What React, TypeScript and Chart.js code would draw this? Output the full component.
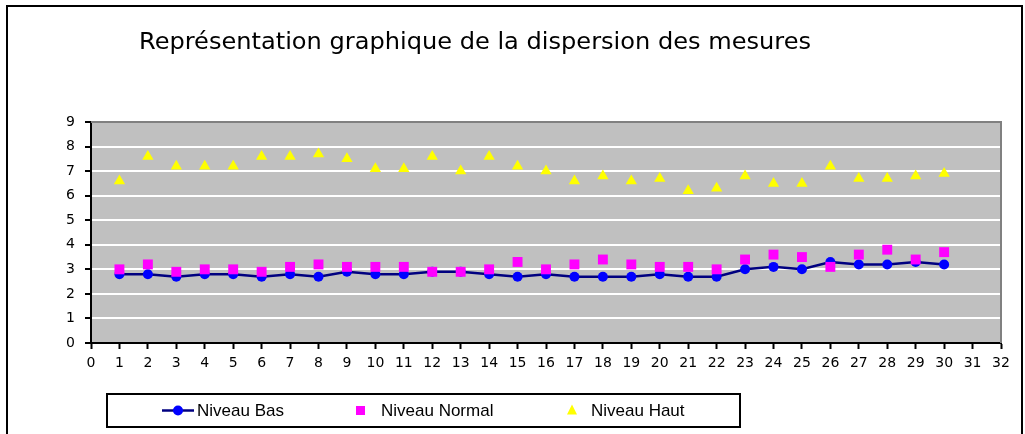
import React, { useEffect, useRef } from "react";
import { Chart, registerables } from "chart.js";

Chart.register(...registerables);

const TITLE = "Représentation graphique de la dispersion des mesures";
const xValues = [1, 2, 3, 4, 5, 6, 7, 8, 9, 10, 11, 12, 13, 14, 15, 16, 17, 18, 19, 20, 21, 22, 23, 24, 25, 26, 27, 28, 29, 30];
const niveauBas = [2.8, 2.8, 2.7, 2.8, 2.8, 2.7, 2.8, 2.7, 2.9, 2.8, 2.8, 2.9, 2.9, 2.8, 2.7, 2.8, 2.7, 2.7, 2.7, 2.8, 2.7, 2.7, 3.0, 3.1, 3.0, 3.3, 3.2, 3.2, 3.3, 3.2];
const niveauNormal = [3.0, 3.2, 2.9, 3.0, 3.0, 2.9, 3.1, 3.2, 3.1, 3.1, 3.1, 2.9, 2.9, 3.0, 3.3, 3.0, 3.2, 3.4, 3.2, 3.1, 3.1, 3.0, 3.4, 3.6, 3.5, 3.1, 3.6, 3.8, 3.4, 3.7];
const niveauHaut = [6.6, 7.6, 7.2, 7.2, 7.2, 7.6, 7.6, 7.7, 7.5, 7.1, 7.1, 7.6, 7.0, 7.6, 7.2, 7.0, 6.6, 6.8, 6.6, 6.7, 6.2, 6.3, 6.8, 6.5, 6.5, 7.2, 6.7, 6.7, 6.8, 6.9];
const seriesLabels = ["Niveau Bas", "Niveau Normal", "Niveau Haut"];

const toPoints = (ys: number[]) => xValues.map((x, i) => ({ x, y: ys[i] }));

const decorPlugin = {
  id: "decor",
  beforeDraw(chart: any) {
    const { ctx, chartArea } = chart;
    ctx.save();
    ctx.fillStyle = "#C0C0C0";
    ctx.fillRect(chartArea.left, chartArea.top, chartArea.right - chartArea.left, chartArea.bottom - chartArea.top);
    ctx.restore();
  },
  afterDraw(chart: any) {
    const { ctx, chartArea } = chart;
    ctx.save();
    // plot area top/right border
    ctx.strokeStyle = "#808080";
    ctx.lineWidth = 2;
    ctx.beginPath();
    ctx.moveTo(chartArea.left, chartArea.top);
    ctx.lineTo(chartArea.right, chartArea.top);
    ctx.lineTo(chartArea.right, chartArea.bottom);
    ctx.stroke();

    // outer frame
    ctx.strokeStyle = "#000";
    ctx.lineWidth = 2;
    ctx.strokeRect(7, 6, 1015, 460);

    // title
    ctx.fillStyle = "#000";
    ctx.font = "23px 'DejaVu Sans'";
    ctx.textBaseline = "alphabetic";
    ctx.textAlign = "left";
    const w = ctx.measureText(TITLE).width;
    const target = 672;
    ctx.save();
    ctx.translate(139, 49);
    ctx.scale(target / w, 1);
    ctx.fillText(TITLE, 0, 0);
    ctx.restore();

    // legend
    ctx.strokeStyle = "#000";
    ctx.lineWidth = 2;
    ctx.strokeRect(107, 394, 633, 33);
    const cy = 410.5;
    const ds = chart.data.datasets;
    // Bas
    ctx.strokeStyle = ds[0].borderColor;
    ctx.lineWidth = 2.5;
    ctx.beginPath();
    ctx.moveTo(162, cy);
    ctx.lineTo(194, cy);
    ctx.stroke();
    ctx.fillStyle = ds[0].pointBackgroundColor;
    ctx.beginPath();
    ctx.arc(178, cy, 5, 0, Math.PI * 2);
    ctx.fill();
    // Normal
    ctx.fillStyle = ds[1].pointBackgroundColor;
    ctx.fillRect(356, cy - 4.5, 9, 9);
    // Haut
    ctx.fillStyle = ds[2].pointBackgroundColor;
    ctx.beginPath();
    ctx.moveTo(572, cy - 6);
    ctx.lineTo(577, cy + 4);
    ctx.lineTo(567, cy + 4);
    ctx.closePath();
    ctx.fill();

    ctx.fillStyle = "#000";
    ctx.font = "17px 'Liberation Sans'";
    ctx.textBaseline = "middle";
    ctx.fillText(seriesLabels[0], 197, cy + 1);
    ctx.fillText(seriesLabels[1], 381, cy + 1);
    ctx.fillText(seriesLabels[2], 591, cy + 1);
    ctx.restore();
  },
};

export default function App() {
  const ref = useRef<HTMLCanvasElement>(null);
  useEffect(() => {
    if (!ref.current) return;
    const chart = new Chart(ref.current, {
      type: "scatter",
      data: {
        datasets: [
          {
            label: seriesLabels[0],
            data: toPoints(niveauBas),
            showLine: true,
            borderColor: "#000080",
            borderWidth: 2.5,
            pointBackgroundColor: "#0000FF",
            pointBorderColor: "#0000FF",
            pointRadius: 5,
            pointBorderWidth: 0,
            order: 3,
          },
          {
            label: seriesLabels[1],
            data: toPoints(niveauNormal),
            showLine: false,
            pointStyle: "rect",
            pointBackgroundColor: "#FF00FF",
            pointBorderColor: "#FF00FF",
            borderColor: "#FF00FF",
            backgroundColor: "#FF00FF",
            pointRadius: 7,
            pointBorderWidth: 0,
            order: 2,
          },
          {
            label: seriesLabels[2],
            data: toPoints(niveauHaut),
            showLine: false,
            pointStyle: "triangle",
            pointBackgroundColor: "#FFFF00",
            pointBorderColor: "#FFFF00",
            borderColor: "#FFFF00",
            backgroundColor: "#FFFF00",
            pointRadius: 6.5,
            pointBorderWidth: 0,
            order: 1,
          },
        ],
      },
      options: {
        animation: false,
        responsive: false,
        maintainAspectRatio: false,
        layout: { padding: { left: 31, top: 122, right: 24, bottom: 51 } },
        plugins: {
          legend: { display: false },
          title: { display: false },
          tooltip: { enabled: false },
        },
        scales: {
          x: {
            type: "linear",
            min: 0,
            max: 32,
            afterFit: (s: any) => {
              s.height = 40;
            },
            ticks: {
              stepSize: 1,
              autoSkip: false,
              maxRotation: 0,
              padding: 6,
              color: "#000",
              font: { family: "'DejaVu Sans'", size: 14 },
            },
            grid: {
              drawOnChartArea: false,
              drawTicks: true,
              tickLength: 6,
              tickColor: "#000",
              tickWidth: 2,
            },
            border: { color: "#000", width: 2 },
          },
          y: {
            type: "linear",
            min: 0,
            max: 9,
            afterFit: (s: any) => {
              s.width = 60;
            },
            ticks: {
              stepSize: 1,
              padding: 10,
              color: "#000",
              font: { family: "'DejaVu Sans'", size: 14 },
            },
            grid: {
              color: "#FFFFFF",
              lineWidth: 2,
              drawTicks: true,
              tickLength: 6,
              tickColor: "#000",
              tickWidth: 2,
            },
            border: { color: "#000", width: 2 },
          },
        },
      },
      plugins: [decorPlugin],
    });
    return () => chart.destroy();
  }, []);
  return (
    <div style={{ position: "fixed", left: 0, top: 0, width: 1025, height: 434, background: "#fff" }}>
      <canvas ref={ref} width={1025} height={434} style={{ display: "block", width: 1025, height: 434 }} />
    </div>
  );
}
